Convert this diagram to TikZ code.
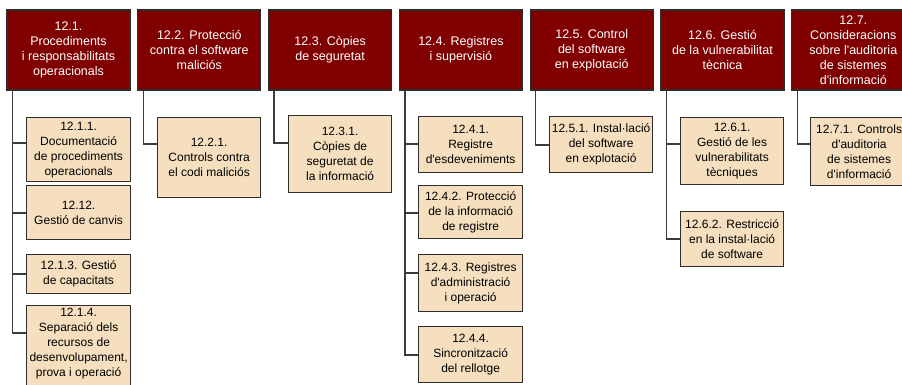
\documentclass[tikz,border=0pt]{standalone}
\usepackage{fontspec}
\setmainfont{Liberation Sans}
\usepackage{tikz}
\definecolor{headred}{RGB}{128,0,0}
\definecolor{subtan}{RGB}{245,223,190}
\definecolor{edgegray}{RGB}{45,45,45}
\definecolor{linkgray}{RGB}{60,60,60}

\begin{document}
\begin{tikzpicture}[x=1pt,y=-1pt,node distance=130.8pt,line join=miter]
  \tikzstyle{head}=[rectangle,draw=edgegray,line width=1.2pt,fill=headred,text=white,
                    minimum width=123pt,minimum height=80pt,inner sep=1pt,align=center,
                    font=\fontsize{12.5}{15}\selectfont]
  \tikzstyle{sub}=[rectangle,draw=edgegray,line width=1.2pt,fill=subtan,text=black,
                   anchor=north west,minimum width=104pt,inner sep=1.5pt,align=center,
                   font=\fontsize{12}{15}\selectfont]
  \tikzstyle{link}=[draw=linkgray,line width=1.4pt]

  \clip (0,0) rectangle (902,385);

  \node[head] (h1) at (68.5,50) {12.1.\\Procediments\\i responsabilitats\\operacionals};
  \node[head] (h2) [right of=h1] {12.2. Protecció\\contra el software\\maliciós};
  \node[head] (h3) [right of=h2] {12.3. Còpies\\de seguretat};
  \node[head] (h4) [right of=h3] {12.4. Registres\\i supervisió};
  \node[head] (h5) [right of=h4] {12.5. Control\\del software\\en explotació};
  \node[head] (h6) [right of=h5] {12.6. Gestió\\de la vulnerabilitat\\tècnica};
  \node[head] (h7) [right of=h6] {12.7.\\Consideracions\\sobre l\textquotesingle auditoria\\de sistemes\\d\textquotesingle informació};

  \node[sub,minimum height=64pt] (c11) at (26,117) {12.1.1.\\Documentació\\de procediments\\operacionals};
  \node[sub,minimum height=54pt] (c12) at (26,185) {12.12.\\Gestió de canvis};
  \node[sub,minimum height=39pt] (c13) at (26,254) {12.1.3. Gestió\\de capacitats};
  \node[sub,minimum height=92pt] (c14) at (26,305) {12.1.4.\\Separació dels\\recursos de\\desenvolupament,\\prova i operació\\[4pt]};

  \node[sub,minimum height=80pt,minimum width=103pt] (c21) at (157,117) {12.2.1.\\Controls contra\\el codi maliciós};

  \node[sub,minimum height=77pt,minimum width=103pt] (c31) at (288,115) {12.3.1.\\Còpies de\\seguretat de\\la informació};

  \node[sub,minimum height=56pt] (c41) at (418,116) {12.4.1.\\Registre\\d\textquotesingle esdeveniments};
  \node[sub,minimum height=53pt] (c42) at (418,185) {12.4.2. Protecció\\de la informació\\de registre};
  \node[sub,minimum height=57pt] (c43) at (418,254) {12.4.3. Registres\\d\textquotesingle administració\\i operació};
  \node[sub,minimum height=56pt] (c44) at (418,326) {12.4.4.\\Sincronització\\del rellotge};

  \node[sub,minimum height=56pt,minimum width=103pt] (c51) at (549,116) {12.5.1. Instal·lació\\del software\\en explotació};

  \node[sub,minimum height=67pt,minimum width=103pt] (c61) at (680,117) {12.6.1.\\Gestió de les\\vulnerabilitats\\tècniques};
  \node[sub,minimum height=55pt,minimum width=103pt] (c62) at (680,211) {12.6.2. Restricció\\en la instal·lació\\de software};

  \node[sub,minimum height=68pt,minimum width=97pt] (c71) at (810,117) {12.7.1. Controls\\d\textquotesingle auditoria\\de sistemes\\d\textquotesingle informació};

  \draw[link] ([xshift=6pt]h1.south west) |- ([yshift=-26pt]c11.north west);
  \draw[link] ([xshift=6pt]h1.south west) |- ([yshift=-28pt]c12.north west);
  \draw[link] ([xshift=6pt]h1.south west) |- (c13.west);
  \draw[link] ([xshift=6pt]h1.south west) |- ([yshift=-28pt]c14.north west);
  \draw[link] ([xshift=6pt]h2.south west) |- ([yshift=-27pt]c21.north west);
  \draw[link] ([xshift=6pt]h3.south west) |- ([yshift=-28pt]c31.north west);
  \draw[link] ([xshift=6pt]h4.south west) |- ([yshift=-28pt]c41.north west);
  \draw[link] ([xshift=6pt]h4.south west) |- ([yshift=-28pt]c42.north west);
  \draw[link] ([xshift=6pt]h4.south west) |- ([yshift=-19pt]c43.north west);
  \draw[link] ([xshift=6pt]h4.south west) |- ([yshift=-29pt]c44.north west);
  \draw[link] ([xshift=6pt]h5.south west) |- ([yshift=-29pt]c51.north west);
  \draw[link] ([xshift=6pt]h6.south west) |- ([yshift=-27pt]c61.north west);
  \draw[link] ([xshift=6pt]h6.south west) |- ([yshift=-28pt]c62.north west);
  \draw[link] ([xshift=6pt]h7.south west) |- ([yshift=-27pt]c71.north west);
\end{tikzpicture}
\end{document}
